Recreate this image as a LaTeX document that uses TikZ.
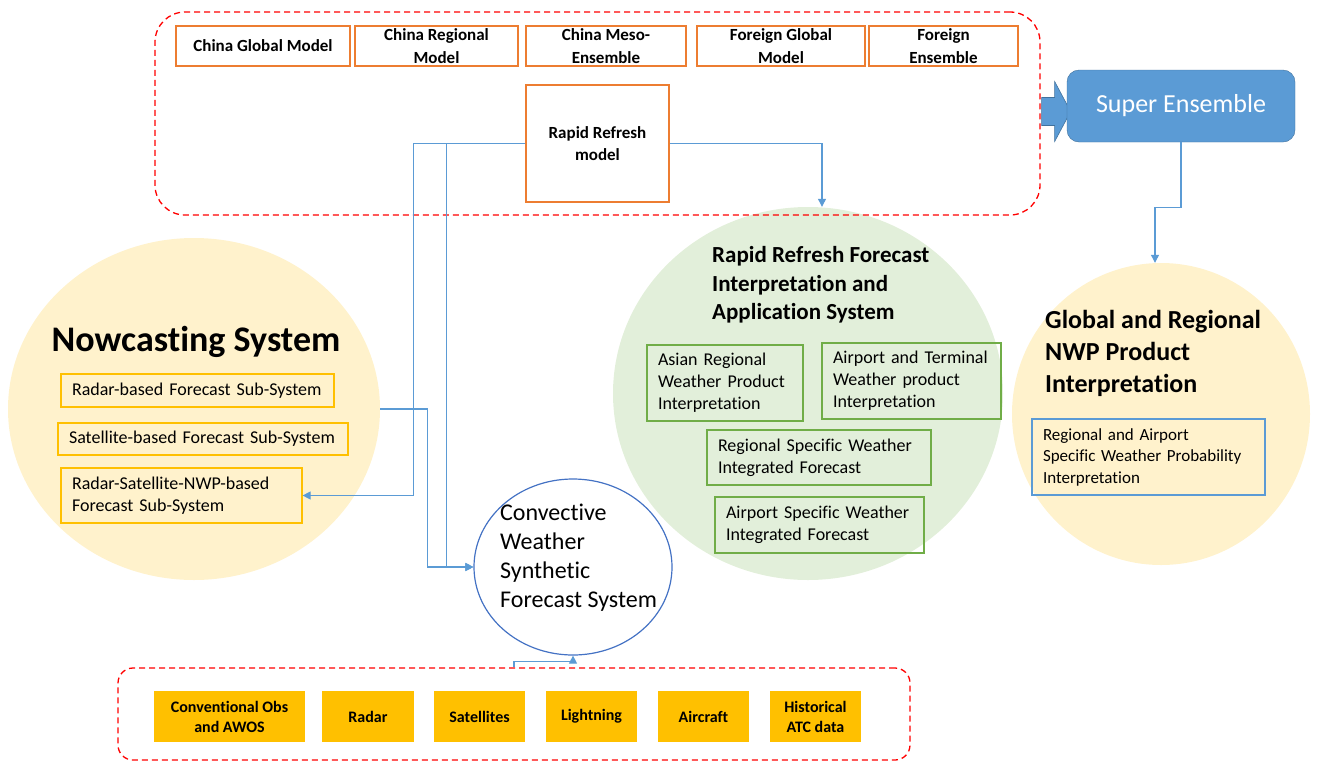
\documentclass[tikz,border=0pt]{standalone}
\usepackage{fontspec}
\setmainfont{Carlito}[Ligatures=NoCommon]
\usetikzlibrary{arrows.meta,shapes.geometric,calc}
\definecolor{dashred}{RGB}{255,0,0}
\definecolor{modelorange}{RGB}{237,125,49}
\definecolor{linkblue}{RGB}{91,155,213}
\definecolor{superedge}{RGB}{65,113,156}
\definecolor{nowyellow}{RGB}{255,242,204}
\definecolor{subgold}{RGB}{255,192,0}
\definecolor{rrgreen}{RGB}{226,239,218}
\definecolor{boxgreen}{RGB}{112,173,71}
\definecolor{convblue}{RGB}{68,114,196}
\tikzstyle{groupbox}=[draw=dashred, line width=1.3pt, dash pattern=on 6pt off 4pt, inner sep=0pt]
\tikzstyle{modelbox}=[draw=modelorange, line width=1.2pt, fill=white, align=center, inner sep=0pt, font=\fontsize{17}{22.5}\selectfont\bfseries]
\tikzstyle{subbox}=[draw=subgold, line width=1.2pt, align=left, inner xsep=11pt, inner ysep=0pt, font=\fontsize{18}{22}\selectfont]
\tikzstyle{rrbox}=[draw=boxgreen, line width=1.2pt, align=left, inner xsep=11pt, inner ysep=0pt, font=\fontsize{18}{22}\selectfont]
\tikzstyle{obsbox}=[fill=subgold, align=center, inner sep=0pt, minimum height=51pt, font=\fontsize{16}{20}\selectfont\bfseries]
\tikzstyle{sysellipse}=[ellipse, inner sep=0pt]
\tikzstyle{title}=[anchor=west, align=left, inner sep=0pt]
\tikzstyle{link}=[draw=linkblue, line width=1.1pt, -{Triangle[length=8pt,width=8pt]}]
\begin{document}
\begin{tikzpicture}[x=1pt, y=-1pt]
	\useasboundingbox (0,0) rectangle (1318,764);
	% the systems
	\node[sysellipse, fill=nowyellow, minimum width=372pt, minimum height=342pt] (now) at (194,409) {};
	\node[sysellipse, fill=rrgreen, minimum width=390pt, minimum height=373pt] (rrapp) at (808,393.5) {};
	\node[sysellipse, fill=nowyellow, minimum width=298pt, minimum height=302pt] (glob) at (1161,414) {};
	\node[sysellipse, draw=convblue, line width=1.2pt, fill=white, minimum width=198pt, minimum height=176pt] (conv) at (573,567) {};
	\node[font=\fontsize{36}{42}\selectfont\bfseries] (nowtitle) at (196,342) {Nowcasting System};
	\node[title, font=\fontsize{23}{28.5}\selectfont\bfseries] (rrtitle) at (712,285) {Rapid Refresh Forecast\\Interpretation and\\Application System};
	\node[title, font=\fontsize{26}{32}\selectfont\bfseries] (globtitle) at (1045,353) {Global and Regional\\NWP Product\\Interpretation};
	\node[title, font=\fontsize{24}{29}\selectfont] (convtitle) at (500,558) {Convective\\Weather\\Synthetic\\Forecast System};
	% sub-systems
	\node[subbox, text width=251pt, minimum height=33pt] (rbf) at (197.5,390.5) {Radar-based Forecast Sub-System};
	\node[subbox, text width=268pt, minimum height=32pt] (sbf) at (203,439) {Satellite-based Forecast Sub-System};
	\node[subbox, text width=219pt, minimum height=55pt] (rsn) at (181.5,495.5) {Radar-Satellite-NWP-based\\Forecast Sub-System};
	\node[rrbox, text width=134pt, minimum height=76pt] (arw) at (725,383) {Asian Regional\\Weather Product\\Interpretation};
	\node[rrbox, text width=157pt, minimum height=76pt] (atw) at (911.5,381) {Airport and Terminal\\Weather product\\Interpretation};
	\node[rrbox, text width=202pt, minimum height=55pt] (rsw) at (819,457.5) {Regional Specific Weather\\Integrated Forecast};
	\node[rrbox, text width=187pt, minimum height=56pt] (asw) at (819.5,525) {Airport Specific Weather\\Integrated Forecast};
	\node[rrbox, draw=linkblue, text width=211pt, minimum height=76pt, font=\fontsize{17}{21.5}\selectfont] (rwp) at (1148.5,457) {Regional and Airport\\Specific Weather Probability\\Interpretation};
	% models
	\node[groupbox, rounded corners=30pt, minimum width=885pt, minimum height=203pt] (models) at (597.5,113.5) {};
	\node[modelbox, minimum width=174pt, minimum height=40pt] (cgm) at (263,46) {China Global Model};
	\node[modelbox, minimum width=163pt, minimum height=40pt] (crm) at (436.5,46) {China Regional\\Model};
	\node[modelbox, minimum width=160pt, minimum height=40pt] (cme) at (606,46) {China Meso-\\Ensemble};
	\node[modelbox, minimum width=168pt, minimum height=40pt] (fgm) at (781,46) {Foreign Global\\Model};
	\node[modelbox, minimum width=149pt, minimum height=40pt] (fen) at (943.5,46) {Foreign\\Ensemble};
	\node[modelbox, minimum width=143pt, minimum height=117pt] (rrm) at (597.5,143.5) {Rapid Refresh\\model};
	\filldraw[fill=linkblue, draw=superedge, line width=0.6pt] ($(models.east)+(1,-16)$) -- ++(13,0) -- ++(0,-16) -- ($(models.east)+(30,-2)$) -- ($(models.east)+(14,28)$) -- ++(0,-16) -- ($(models.east)+(1,12)$) -- cycle;
	\node[draw=superedge, fill=linkblue, rounded corners=12pt, minimum width=228pt, minimum height=72pt, text=white, font=\fontsize{26}{30}\selectfont] (super) at (1181,106) {Super Ensemble};
	% observations
	\node[groupbox, rounded corners=15pt, minimum width=792pt, minimum height=92pt] (obsdata) at (514,714) {};
	\node[obsbox, minimum width=151pt] (cob) at (229.5,716.5) {Conventional Obs\\and AWOS};
	\node[obsbox, minimum width=92pt] (rad) at (368,716.5) {Radar};
	\node[obsbox, minimum width=91pt] (sat) at (479.5,716.5) {Satellites};
	\node[obsbox, minimum width=91pt] (lig) at (591.5,716.5) {Lightning};
	\node[obsbox, minimum width=91pt] (air) at (703.5,716.5) {Aircraft};
	\node[obsbox, minimum width=91pt] (his) at (815.5,716.5) {Historical\\ATC data};
	% links
	\draw[link] (rrm.east) -| ([xshift=14pt]rrapp.north);
	\draw[link] (rrm.west) -| ([xshift=111pt]rsn.east) -- (rsn.east);
	\draw[link] (rrm.west) -| ([xshift=-27pt]conv.west) -- (conv.west);
	\draw[link] (now.east) -| ([xshift=-46pt]conv.west) -- (conv.west);
	\draw[link] (super.south) -- ++(0,65) -| ([xshift=-6pt]glob.north);
	\draw[link] (obsdata.north) -- ++(0,-6) -| (conv.south);
\end{tikzpicture}
\end{document}
